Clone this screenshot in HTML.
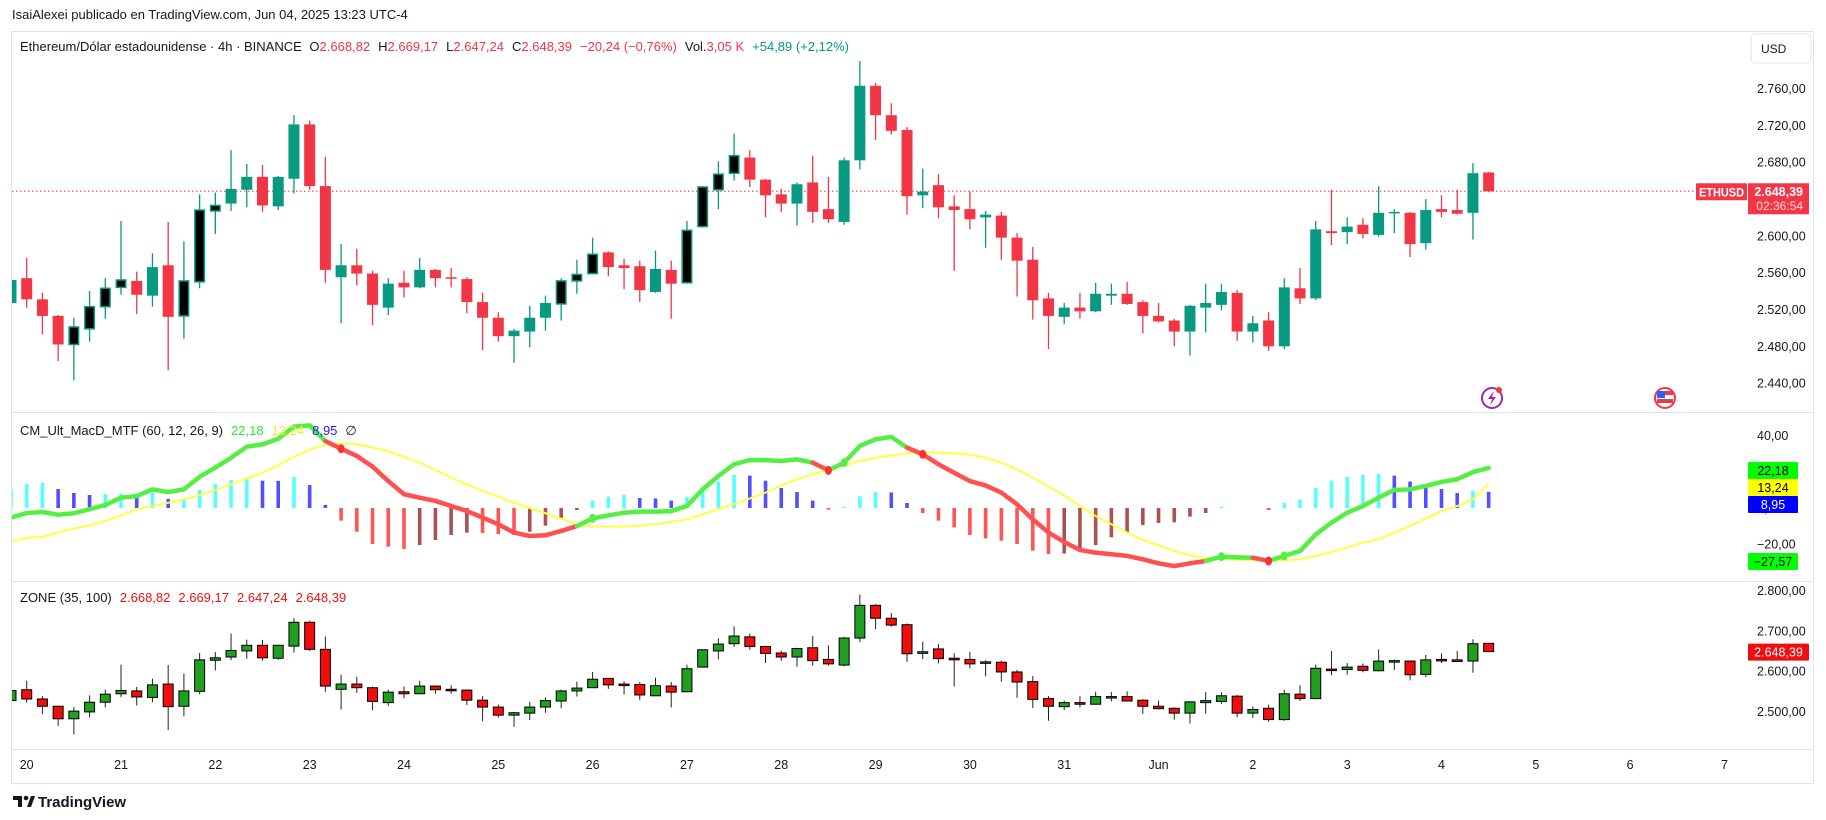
<!DOCTYPE html>
<html><head><meta charset="utf-8"><style>
html,body{margin:0;padding:0;background:#fff;width:1826px;height:820px;overflow:hidden}
svg{display:block;font-family:"Liberation Sans",sans-serif}
</style></head><body>
<svg id="chart" width="1826" height="820" viewBox="0 0 1826 820">
<defs>
<clipPath id="cm"><rect x="12" y="32" width="1731" height="380"/></clipPath>
<clipPath id="cd"><rect x="12" y="413" width="1731" height="168"/></clipPath>
<clipPath id="cz"><rect x="12" y="582" width="1731" height="167"/></clipPath>
</defs>
<rect x="0" y="0" width="1826" height="820" fill="#fff"/>
<text x="12" y="19" font-size="13" fill="#131722">IsaiAlexei publicado en TradingView.com, Jun 04, 2025 13:23 UTC-4</text>
<rect x="11.5" y="31.5" width="1802" height="752" fill="none" stroke="#e0e3eb"/>
<line x1="12" y1="412.5" x2="1813" y2="412.5" stroke="#e0e3eb"/>
<line x1="12" y1="581.5" x2="1813" y2="581.5" stroke="#e0e3eb"/>
<line x1="12" y1="749.5" x2="1813" y2="749.5" stroke="#e0e3eb"/>
<g id="main" clip-path="url(#cm)"></g>
<g id="macd" clip-path="url(#cd)"></g>
<g id="zone" clip-path="url(#cz)"></g>
<g id="axes"></g>
<text x="20" y="51" font-size="13" fill="#131722">Ethereum/Dólar estadounidense · 4h · BINANCE  <tspan dx="4">O</tspan><tspan fill="#f23645">2.668,82</tspan><tspan dx="8">H</tspan><tspan fill="#f23645">2.669,17</tspan><tspan dx="8">L</tspan><tspan fill="#f23645">2.647,24</tspan><tspan dx="8">C</tspan><tspan fill="#f23645">2.648,39</tspan><tspan dx="8" fill="#f23645">−20,24 (−0,76%)</tspan><tspan dx="8">Vol.</tspan><tspan fill="#f23645">3,05 K</tspan><tspan dx="8" fill="#089981">+54,89 (+2,12%)</tspan></text>
<text x="20" y="435" font-size="13" fill="#131722">CM_Ult_MacD_MTF (60, 12, 26, 9)<tspan dx="8" fill="#2ee82e">22,18</tspan><tspan dx="8" fill="#f0f020">13,24</tspan><tspan dx="8" fill="#2020ff">8,95</tspan><tspan dx="8">∅</tspan></text>
<text x="20" y="602" font-size="13" fill="#131722">ZONE (35, 100)<tspan dx="8" fill="#f01010">2.668,82</tspan><tspan dx="8" fill="#f01010">2.669,17</tspan><tspan dx="8" fill="#f01010">2.647,24</tspan><tspan dx="8" fill="#f01010">2.648,39</tspan></text>
<rect x="1751" y="34" width="60" height="29" rx="4" fill="#fff" stroke="#e0e3eb"/>
<text x="1761" y="53" font-size="12" fill="#131722">USD</text>
<g><circle cx="1492" cy="398" r="10" fill="#fff" stroke="#9c27b0" stroke-width="2"/><path d="M1494 391 L1488 399 L1492 399 L1490 405 L1496 397 L1492 397 Z" fill="#9c27b0"/><circle cx="1499" cy="390" r="3" fill="#f23645"/></g>
<g><circle cx="1665" cy="398" r="10" fill="#fff" stroke="#f23645" stroke-width="2"/><rect x="1657" y="391" width="16" height="4" fill="#f23645"/><rect x="1657" y="399" width="16" height="4" fill="#f23645"/><rect x="1657" y="391" width="8" height="7" fill="#2962ff"/></g>
<g><path d="M13 796 h9 v11 h-4 v-7 h-5 z" fill="#131722"/><circle cx="26" cy="798" r="2.3" fill="#131722"/><path d="M27 807 l4 -11 h4 l-4 11 z" fill="#131722"/><text x="38" y="807" font-size="15" font-weight="bold" fill="#131722">TradingView</text></g>
</svg>
<script>
const opens=[2527,2554,2531,2513,2482,2499,2523,2544,2551,2535,2568,2513,2550,2627,2635,2650,2664,2632,2662,2721,2654,2555,2568,2559,2522,2549,2544,2563,2555,2553,2528,2511,2491,2496,2511,2526,2551,2559,2582,2568,2567,2539,2563,2549,2610,2650,2668,2685,2661,2645,2635,2658,2629,2615,2682,2763,2731,2715,2644,2655,2632,2629,2620,2622,2598,2574,2532,2512,2522,2518,2535,2537,2528,2513,2508,2496,2522,2525,2538,2496,2508,2480,2543,2532,2605,2604,2612,2601,2625,2625,2592,2629,2628,2625,2668.82];
const highs=[2586,2576,2538,2514,2511,2540,2554,2616,2561,2581,2615,2594,2645,2647,2693,2678,2677,2665,2731,2725,2686,2591,2586,2562,2554,2562,2576,2564,2565,2555,2538,2517,2499,2524,2535,2554,2574,2598,2583,2575,2573,2584,2573,2616,2654,2681,2711,2693,2662,2651,2658,2687,2664,2685,2790,2766,2744,2718,2673,2667,2644,2648,2627,2626,2603,2588,2538,2527,2538,2549,2548,2550,2530,2527,2510,2525,2548,2548,2541,2513,2517,2554,2565,2616,2650,2620,2619,2654,2629,2626,2640,2644,2650,2679,2669.17];
const lows=[2511,2522,2493,2464,2443,2485,2510,2536,2515,2523,2454,2488,2543,2602,2627,2631,2626,2628,2646,2650,2549,2505,2546,2503,2514,2533,2543,2544,2544,2516,2476,2485,2462,2479,2497,2508,2537,2558,2556,2542,2528,2538,2510,2548,2609,2629,2660,2653,2620,2626,2611,2614,2614,2612,2672,2704,2710,2623,2630,2619,2562,2607,2587,2574,2534,2509,2477,2504,2510,2517,2525,2525,2494,2506,2480,2470,2495,2519,2486,2484,2475,2477,2526,2530,2590,2591,2597,2599,2603,2577,2585,2620,2623,2596,2647.24];
const closes=[2552,2531,2513,2482,2501,2523,2543,2552,2536,2566,2512,2551,2628,2633,2651,2664,2633,2664,2721,2654,2563,2568,2559,2525,2548,2544,2563,2554,2554,2528,2511,2491,2497,2511,2527,2551,2558,2580,2566,2565,2541,2564,2548,2606,2653,2667,2687,2661,2644,2635,2656,2626,2618,2682,2763,2731,2714,2643,2648,2631,2628,2618,2623,2598,2573,2530,2513,2522,2518,2537,2537,2526,2513,2507,2496,2524,2527,2539,2496,2505,2480,2544,2532,2607,2603,2610,2602,2625,2626,2591,2628,2626,2624,2668,2648.39];
const blackFill=[4,5,6,7,11,12,13,35,36,37,43,44,45,46];
const macdVals=[-5.3,-2.8,-2.2,-3.7,-2.9,-0.7,1.7,5.7,6.6,10.3,8.8,10.3,17.3,22.3,27.8,33.9,35.2,38.3,45,45.7,37,32.8,28.8,22.9,14.9,7.6,5.7,3.9,1.1,-1.7,-5.3,-9,-13.6,-15.5,-15.1,-12.7,-10,-5.7,-4.1,-2.6,-2,-2,-1.7,1.1,10.3,17.7,24.2,26.5,26.5,26,26.9,25.1,20.8,25.1,34.3,38,39.3,33.4,29.7,24.2,19.5,14.9,12.5,8.5,2,-6.3,-13.6,-18.8,-23.2,-24.7,-25.6,-26.5,-28.4,-30.6,-32.1,-30.6,-29.3,-26.9,-27.3,-27.5,-29.3,-26.5,-23.8,-14.6,-8.1,-2.6,1.1,5.7,10,10.3,12.2,14.4,15.9,19.9,22.18];
const signalVals=[-18.3,-16.6,-15.9,-13.6,-11.4,-9.6,-7.2,-4.1,-0.7,1.1,2.9,4.8,7,10,13.1,16.2,19.5,23.6,28.2,32.4,35,35.6,35.2,33.4,31.5,28.4,25.1,21,16.8,13.1,9.4,6.3,2.9,0,-2.9,-5.9,-9,-10.3,-10.3,-10.3,-9.8,-9,-7.7,-6.3,-3.5,-0.7,2.2,5.3,8.5,12.5,15.9,18.6,21.4,23.6,26,27.7,29.1,30.1,30.6,30.6,30.2,29.5,27.8,25.1,21.4,16.8,11.8,7,1.1,-4.4,-9,-13.6,-17.7,-20.6,-23.8,-26.2,-27.5,-28,-28.4,-28.8,-28.9,-28.8,-28.4,-26.5,-24.3,-21.9,-19.2,-17.3,-13.6,-10,-5.9,-1.7,1.1,4.8,13.24];
const histVals=[10.5,13.3,13.8,10.5,8.3,7.2,7.7,7.9,6.5,8.3,5.0,5.3,10,13.3,15.5,17,15.1,15.0,17.1,12.7,1.7,-7,-13.1,-19.9,-21.4,-22.7,-20.5,-17.7,-14.9,-13.6,-13.8,-14.4,-14.9,-13.1,-9.8,-5.5,-1.1,4.1,6.3,7.2,5.5,5.3,4.1,6.1,11.1,14.7,18.3,17.9,15.1,11.1,8.8,4.1,-0.9,0.6,6.5,8.8,8.6,2.8,-2.8,-7,-10.7,-14.9,-16.8,-18.1,-19.9,-23.6,-25.4,-25.2,-23.6,-20.5,-16.2,-13.5,-9.4,-8.3,-7.9,-4.8,-2.8,0.6,0,0,-1.1,2.8,4.6,11.1,15.1,17.1,18.4,18.8,17.9,14.6,12.7,10.5,8.3,9.6,8.95];
const priceTicks=[2760,2720,2680,2640,2600,2560,2520,2480,2440];
const priceTickLabels=["2.760,00","2.720,00","2.680,00","","2.600,00","2.560,00","2.520,00","2.480,00","2.440,00"];
const zoneTicks=[2800,2700,2600,2500];
const zoneTickLabels=["2.800,00","2.700,00","2.600,00","2.500,00"];
const macdTicks=[40,0,-20];
const macdTickLabels=["40,00","0,00","−20,00"];
const dayLabels=["20","21","22","23","24","25","26","27","28","29","30","31","Jun","2","3","4","5","6","7"];
const lastPrice=2648.39;

const NS="http://www.w3.org/2000/svg";
function mk(tag,attrs,parent){const e=document.createElementNS(NS,tag);for(const k in attrs)e.setAttribute(k,attrs[k]);parent.appendChild(e);return e;}
const xOf=i=>10.98+i*15.72;
const yM=p=>88.5+(2760-p)*0.9207;
const yD=v=>508-v*1.808;
const yZ=p=>590.4+(2800-p)*0.4037;
const main=document.getElementById('main'),macd=document.getElementById('macd'),zone=document.getElementById('zone'),axes=document.getElementById('axes');
const GREEN="#089981",RED="#f23645",BW=11;

let dl=mk('line',{x1:12,x2:1696,y1:yM(lastPrice),y2:yM(lastPrice),stroke:RED,'stroke-width':1,'stroke-dasharray':'1.5 2.5'},main);



for(let i=0;i<opens.length;i++){
  const o=opens[i],c=closes[i],h=highs[i],l=lows[i],x=xOf(i);
  const up=c>=o, col=up?GREEN:RED, blk=blackFill.includes(i);
  const g=mk('g',{},main);
  
  
  mk('line',{x1:x,x2:x,y1:yM(h),y2:yM(l),stroke:col,'stroke-width':1.3},g);
  const top=yM(Math.max(o,c)),bh=Math.max(1.5,Math.abs(yM(o)-yM(c)));
  if(blk) mk('rect',{x:x-BW/2+0.75,y:top,width:BW-1.5,height:bh,fill:'#000',stroke:GREEN,'stroke-width':1.5},g);
  else mk('rect',{x:x-BW/2,y:top,width:BW,height:bh,fill:col},g);
  const gz=mk('g',{},zone);
  
  
  mk('line',{x1:x,x2:x,y1:yZ(h),y2:yZ(l),stroke:'#222','stroke-width':1},gz);
  const zt=yZ(Math.max(o,c)),zh=Math.max(1.5,Math.abs(yZ(o)-yZ(c)));
  mk('rect',{x:x-BW/2+0.5,y:zt,width:BW-1,height:zh,fill:up?'#1f9e1f':'#f00d0d',stroke:'#000','stroke-width':1},gz);
}

for(let i=0;i<histVals.length;i++){
  const v=histVals[i],pv=i>0?histVals[i-1]:v;
  if(v===0) continue;
  let col;
  if(v>0) col=v>=pv?'#55ffff':'#5050ff'; else col=v<=pv?'#ff5555':'#a9524f';
  const y0=yD(0),y1=yD(v);
  const r=mk('rect',{x:xOf(i)-1.8,y:Math.min(y0,y1),width:3.6,height:Math.max(1,Math.abs(y1-y0)),fill:col},macd);
  
  
}
let sp=signalVals.map((v,i)=>xOf(i)+','+yD(v)).join(' ');
const sl=mk('polyline',{points:sp,fill:'none',stroke:'#ffff44','stroke-width':2},macd);


for(let i=1;i<macdVals.length;i++){
  const above=macdVals[i]>=signalVals[i];
  const s=mk('line',{x1:xOf(i-1),y1:yD(macdVals[i-1]),x2:xOf(i),y2:yD(macdVals[i]),stroke:above?'#55ee44':'#ff5050','stroke-width':4.5,'stroke-linecap':'round'},macd);
  
  
}
for(let i=1;i<macdVals.length;i++){
  const a=macdVals[i]>=signalVals[i],b=macdVals[i-1]>=signalVals[i-1];
  if(a!==b){
    const d=mk('ellipse',{cx:xOf(i),cy:yD(macdVals[i]),rx:3.5,ry:4.5,fill:a?'#55ee44':'#ff3030'},macd);
    
    
  }
}

priceTicks.forEach((p,k)=>{if(!priceTickLabels[k])return;
  const t=mk('text',{x:1757,y:yM(p)+4.5,'font-size':12.5,fill:'#131722'},axes);t.textContent=priceTickLabels[k];
  
  });
zoneTicks.forEach((p,k)=>{
  const t=mk('text',{x:1757,y:yZ(p)+4.5,'font-size':12.5,fill:'#131722'},axes);t.textContent=zoneTickLabels[k];
  
  });
macdTicks.forEach((v,k)=>{
  const t=mk('text',{x:1757,y:yD(v)+4.5,'font-size':12.5,fill:'#131722'},axes);t.textContent=macdTickLabels[k];
  
  });
dayLabels.forEach((d,k)=>{
  const t=mk('text',{x:xOf(1+6*k),y:769,'font-size':12.5,fill:'#131722','text-anchor':'middle'},axes);t.textContent=d;
  
  });

function badge(x,y,w,h,bg,fg,txt,name,fs,bold){
  const g=mk('g',{},axes);
  
  
  mk('rect',{x:x,y:y,width:w,height:h,fill:bg,rx:1},g);
  const a={x:x+w/2,y:y+h/2+4.5,'font-size':fs||12.5,fill:fg,'text-anchor':'middle'};
  if(bold)a['font-weight']='bold';
  const t=mk('text',a,g);t.textContent=txt;
  return t;
}
const ly=yM(lastPrice);
const et=badge(1696,ly-8,51,17,RED,'#fff','ETHUSD','symbol-badge',12,true);
et.setAttribute('textLength','45');
et.setAttribute('lengthAdjust','spacingAndGlyphs');
const pb=mk('g',{},axes);


mk('rect',{x:1748,y:ly-8,width:61,height:31,fill:RED},pb);
let t1=mk('text',{x:1803,y:ly+4.5,'font-size':12.5,'font-weight':'bold',fill:'#fff','text-anchor':'end'},pb);t1.textContent='2.648,39';
let t2=mk('text',{x:1803,y:ly+18.5,'font-size':12,fill:'#ffd9dd','text-anchor':'end'},pb);t2.textContent='02:36:54';
badge(1748,462,50,17,'#00ff00','#000','22,18','macd-value-badge');
badge(1748,479,50,17,'#ffff00','#000','13,24','signal-value-badge');
badge(1748,496,50,17,'#0000ff','#fff','8,95','hist-value-badge');
badge(1748,553,50,17,'#00ff00','#000','−27,57','lower-value-badge');
badge(1748,yZ(lastPrice)-8,61,17,'#f00d0d','#fff','2.648,39','zone-price-badge');
</script>
</body></html>
